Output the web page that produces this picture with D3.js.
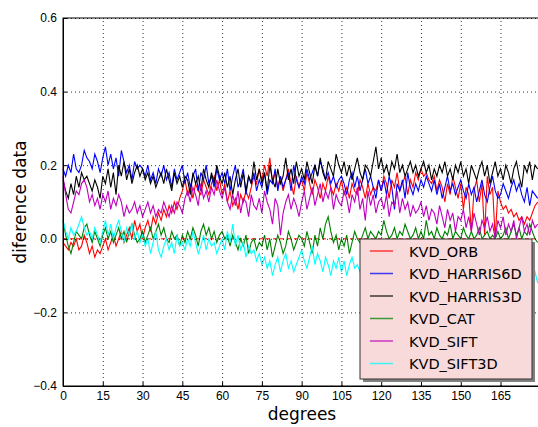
<!DOCTYPE html>
<html>
<head>
<meta charset="utf-8">
<script src="https://cdnjs.cloudflare.com/ajax/libs/d3/7.8.5/d3.min.js"></script>
<style>
    body { margin: 0; background: #fff; }
    svg { display: block; font-family: "DejaVu Sans", sans-serif; }
</style>
</head>
<body>
<svg width="538" height="427"></svg>
<script>
// one value per degree, 0..179
var degrees = d3.range(0, 180);

var kvdOrb = [
    -0.01,-0.02,-0.03,-0.01,-0.02,0.00,-0.03,-0.02,0.01,-0.01,-0.04,-0.02,-0.05,-0.03,-0.04,
    -0.02,0.00,-0.03,-0.01,0.01,-0.02,0.00,0.02,-0.01,0.01,0.03,0.00,0.05,0.02,0.04,
    0.00,0.03,0.05,0.02,0.06,0.04,0.07,0.05,0.08,0.06,0.09,0.07,0.10,0.08,0.11,
    0.13,0.16,0.12,0.14,0.11,0.15,0.13,0.12,0.16,0.14,0.12,0.15,0.17,0.13,0.16,
    0.12,0.15,0.10,0.13,0.09,0.11,0.08,0.12,0.10,0.13,0.11,0.14,0.17,0.15,0.19,
    0.16,0.20,0.17,0.22,0.15,0.18,0.14,0.17,0.13,0.16,0.19,0.15,0.12,0.17,0.14,
    0.16,0.13,0.18,0.15,0.12,0.16,0.14,0.11,0.15,0.13,0.17,0.14,0.12,0.15,0.13,
    0.16,0.12,0.14,0.11,0.15,0.13,0.12,0.16,0.14,0.11,0.15,0.12,0.14,0.13,0.16,
    0.13,0.17,0.15,0.11,0.16,0.14,0.18,0.13,0.15,0.17,0.12,0.16,0.14,0.18,0.16,
    0.19,0.17,0.18,0.16,0.15,0.17,0.13,0.16,0.14,0.10,0.15,0.12,0.17,0.14,0.11,
    0.15,0.08,0.14,0.12,0.02,0.13,0.16,0.10,0.15,0.01,0.17,0.12,0.14,0.00,0.13,
    0.10,0.08,0.09,0.07,0.08,0.06,0.07,0.05,0.06,0.04,0.06,0.05,0.07,0.09,0.10
];
var kvdHarris6d = [
    0.19,0.17,0.20,0.18,0.23,0.19,0.18,0.20,0.24,0.22,0.21,0.19,0.23,0.21,0.18,
    0.22,0.25,0.20,0.23,0.19,0.22,0.17,0.24,0.21,0.18,0.20,0.16,0.21,0.19,0.20,
    0.19,0.17,0.20,0.16,0.18,0.15,0.19,0.17,0.20,0.16,0.18,0.14,0.19,0.16,0.18,
    0.20,0.15,0.18,0.14,0.17,0.19,0.13,0.18,0.16,0.20,0.15,0.17,0.14,0.19,0.16,
    0.18,0.15,0.19,0.13,0.17,0.20,0.14,0.16,0.19,0.12,0.17,0.15,0.18,0.13,0.16,
    0.14,0.18,0.12,0.16,0.15,0.19,0.13,0.17,0.14,0.16,0.18,0.13,0.20,0.16,0.14,
    0.17,0.15,0.19,0.16,0.18,0.20,0.17,0.21,0.19,0.16,0.18,0.15,0.17,0.14,0.16,
    0.17,0.15,0.12,0.16,0.18,0.14,0.17,0.13,0.16,0.19,0.15,0.17,0.14,0.11,0.16,
    0.13,0.16,0.12,0.17,0.14,0.08,0.15,0.13,0.16,0.11,0.18,0.14,0.12,0.15,0.13,
    0.16,0.14,0.17,0.15,0.13,0.16,0.12,0.15,0.11,0.14,0.17,0.13,0.15,0.12,0.14,
    0.16,0.13,0.11,0.15,0.12,0.14,0.10,0.13,0.16,0.12,0.10,0.14,0.17,0.13,0.11,
    0.12,0.15,0.13,0.11,0.14,0.16,0.13,0.15,0.12,0.10,0.14,0.09,0.13,0.12,0.11
];
var kvdHarris3d = [
    0.16,0.13,0.11,0.15,0.12,0.17,0.14,0.18,0.16,0.17,0.15,0.13,0.16,0.14,0.11,
    0.17,0.15,0.19,0.14,0.18,0.12,0.20,0.17,0.21,0.16,0.19,0.15,0.18,0.20,0.17,
    0.19,0.16,0.18,0.15,0.17,0.14,0.16,0.18,0.15,0.19,0.16,0.13,0.18,0.15,0.17,
    0.14,0.17,0.16,0.12,0.18,0.15,0.17,0.13,0.19,0.16,0.14,0.18,0.15,0.20,0.17,
    0.15,0.18,0.14,0.17,0.12,0.16,0.19,0.14,0.18,0.13,0.17,0.15,0.21,0.16,0.19,
    0.15,0.18,0.13,0.20,0.16,0.14,0.19,0.15,0.17,0.22,0.16,0.19,0.15,0.21,0.17,
    0.19,0.16,0.21,0.18,0.15,0.20,0.17,0.22,0.18,0.16,0.21,0.19,0.17,0.23,0.20,
    0.18,0.21,0.17,0.20,0.16,0.19,0.22,0.18,0.16,0.20,0.19,0.17,0.21,0.25,0.19,
    0.22,0.18,0.20,0.17,0.21,0.19,0.23,0.18,0.20,0.17,0.19,0.21,0.18,0.20,0.17,
    0.19,0.21,0.18,0.20,0.16,0.19,0.17,0.20,0.18,0.21,0.17,0.19,0.16,0.20,0.18,
    0.21,0.17,0.19,0.15,0.20,0.18,0.16,0.19,0.21,0.17,0.20,0.15,0.18,0.21,0.17,
    0.19,0.16,0.20,0.18,0.15,0.19,0.21,0.17,0.14,0.20,0.18,0.21,0.16,0.20,0.19
];
var kvdCat = [
    0.05,0.01,-0.02,-0.04,-0.01,0.02,0.01,0.00,0.03,0.04,0.01,-0.01,0.02,0.00,-0.02,
    0.01,0.03,0.00,0.02,-0.01,0.01,0.03,0.00,0.02,-0.01,0.02,0.04,0.01,-0.01,0.00,
    0.02,-0.01,0.01,0.03,0.00,0.02,0.04,0.01,0.03,0.00,-0.01,0.02,0.00,0.01,-0.02,
    0.01,-0.01,0.02,0.00,0.03,0.01,-0.02,0.02,0.04,0.01,0.03,0.00,0.02,-0.01,0.01,
    0.02,0.00,0.01,-0.02,0.01,-0.01,-0.03,0.00,-0.02,0.01,-0.04,-0.01,0.00,-0.03,-0.01,
    -0.02,0.01,-0.03,0.00,-0.05,-0.02,0.01,-0.01,-0.04,-0.02,0.02,0.00,-0.03,-0.01,0.01,
    0.00,-0.02,0.02,-0.01,-0.04,0.01,-0.02,0.03,0.00,0.04,0.06,0.02,-0.01,0.01,-0.03,
    0.00,-0.02,0.01,-0.04,-0.01,0.02,0.00,-0.01,0.01,0.03,0.00,0.02,0.01,0.00,0.02,
    0.01,0.05,0.02,0.00,0.01,0.03,0.00,0.02,0.01,0.04,0.02,0.00,0.01,0.03,0.00,
    0.02,0.00,0.05,0.01,0.02,0.00,0.03,0.01,0.00,0.02,0.01,0.04,0.00,0.02,0.01,
    0.00,0.03,0.01,0.00,0.02,0.00,0.01,0.03,0.00,0.01,0.02,0.00,0.01,0.00,0.02,
    0.00,0.01,0.03,0.00,0.02,0.04,0.01,0.03,0.00,0.02,0.01,0.04,0.02,0.00,-0.01
];
var kvdSift = [
    0.17,0.12,0.08,0.07,0.10,0.13,0.12,0.15,0.16,0.14,0.10,0.12,0.09,0.11,0.08,
    0.12,0.10,0.13,0.08,0.11,0.09,0.12,0.10,0.06,0.09,0.07,0.08,0.10,0.07,0.09,
    0.06,0.08,0.10,0.07,0.09,0.06,0.08,0.07,0.10,0.08,0.06,0.09,0.07,0.10,0.09,
    0.07,0.11,0.13,0.10,0.14,0.12,0.09,0.15,0.11,0.13,0.10,0.14,0.12,0.16,0.13,
    0.11,0.14,0.10,0.08,0.12,0.09,0.13,0.07,0.11,0.10,0.06,0.12,0.09,0.08,0.11,
    0.07,0.13,0.10,0.08,0.04,0.11,0.09,0.01,0.07,0.10,0.12,0.08,0.11,0.09,0.06,
    0.10,0.13,0.08,0.11,0.14,0.09,0.12,0.15,0.10,0.13,0.11,0.14,0.08,0.12,0.10,
    0.09,0.13,0.11,0.07,0.12,0.10,0.14,0.08,0.11,0.05,0.13,0.09,0.12,0.07,0.10,
    0.11,0.08,0.12,0.06,0.10,0.09,0.13,0.07,0.11,0.08,0.10,0.06,0.09,0.07,0.08,
    0.10,0.06,0.09,0.05,0.08,0.07,0.04,0.09,0.06,0.03,0.08,0.05,0.07,0.02,0.06,
    0.05,0.08,0.03,0.06,0.02,0.07,0.04,0.01,0.05,0.03,0.06,0.02,0.04,0.00,0.05,
    0.03,0.06,0.01,0.04,0.02,0.05,0.00,0.03,0.06,0.02,0.04,0.01,0.05,0.03,0.04
];
var kvdSift3d = [
    0.05,0.02,0.00,0.03,0.01,0.02,0.04,0.06,0.03,0.01,0.02,0.00,0.03,0.01,-0.01,
    0.02,0.05,0.01,0.04,0.00,0.03,0.05,0.02,-0.01,0.03,0.01,0.04,0.00,0.02,-0.01,
    0.01,-0.02,0.00,-0.04,-0.01,0.02,-0.03,-0.05,-0.02,0.00,-0.03,-0.01,-0.04,0.01,-0.02,
    -0.01,-0.03,0.00,-0.02,0.02,-0.01,-0.04,-0.02,0.01,-0.03,0.00,-0.02,-0.01,-0.04,-0.02,
    0.00,-0.03,0.02,-0.01,0.04,-0.02,0.01,-0.03,-0.01,-0.05,-0.02,-0.04,-0.03,-0.06,-0.04,
    -0.07,-0.05,-0.08,-0.06,-0.10,-0.07,-0.05,-0.09,-0.06,-0.04,-0.08,-0.06,-0.09,-0.07,-0.05,
    -0.03,-0.06,-0.08,-0.05,-0.02,-0.07,-0.04,-0.06,-0.09,-0.05,-0.07,-0.10,-0.06,-0.08,-0.05,
    -0.09,-0.06,-0.10,-0.07,-0.05,-0.08,-0.07,-0.09,-0.08,-0.10,-0.07,-0.09,-0.08,-0.10,-0.09,
    -0.08,-0.10,-0.09,-0.11,-0.08,-0.10,-0.09,-0.12,-0.10,-0.08,-0.11,-0.09,-0.10,-0.12,-0.09,
    -0.11,-0.09,-0.10,-0.08,-0.11,-0.10,-0.12,-0.09,-0.11,-0.10,-0.08,-0.11,-0.09,-0.12,-0.10,
    -0.09,-0.11,-0.10,-0.12,-0.09,-0.11,-0.10,-0.08,-0.11,-0.09,-0.12,-0.10,-0.11,-0.09,-0.10,
    -0.12,-0.10,-0.11,-0.09,-0.12,-0.10,-0.11,-0.13,-0.10,-0.12,-0.08,-0.10,-0.11,-0.09,-0.12
];

var seriesNames = ["KVD_ORB", "KVD_HARRIS6D", "KVD_HARRIS3D", "KVD_CAT", "KVD_SIFT", "KVD_SIFT3D"];
var seriesValues = [kvdOrb, kvdHarris6d, kvdHarris3d, kvdCat, kvdSift, kvdSift3d];
var seriesColors = ["#ff0000", "#0000ff", "#000000", "#008000", "#bf00bf", "#00ffff"];

var xTicks = [0, 15, 30, 45, 60, 75, 90, 105, 120, 135, 150, 165];
var yTicks = [-0.4, -0.2, 0.0, 0.2, 0.4, 0.6];

var svg = d3.select("svg"),
    margin = {top: 18, left: 63},
    width = 477.3,
    height = 368,
    g = svg.append("g").attr("transform", "translate(" + margin.left + "," + margin.top + ")");

var x = d3.scaleLinear().domain([0, 180]).range([0, width]);
var y = d3.scaleLinear().domain([-0.4, 0.6]).range([height, 0]);

var fmt = function (d) {
    return d3.format(".1f")(d).replace("-", "\u2212");
};

var line = d3.line()
    .x(function (d, i) { return x(degrees[i]); })
    .y(function (d) { return y(d); });

// red dashed zero line
g.append("line")
    .attr("x1", 0).attr("x2", width)
    .attr("y1", y(0)).attr("y2", y(0))
    .attr("stroke", "#ff0000")
    .attr("stroke-dasharray", "4,3")
    .attr("stroke-width", 1);

g.selectAll(".serie")
    .data(seriesValues)
    .enter().append("path")
    .attr("class", "serie")
    .attr("d", line)
    .attr("fill", "none")
    .attr("stroke-width", 1.1)
    .attr("stroke", function (d, i) { return seriesColors[i]; });

// dotted grid, drawn on top like old matplotlib
g.append("g")
    .attr("class", "grid")
    .attr("transform", "translate(0," + height + ")")
    .call(d3.axisBottom(x).tickValues(xTicks).tickSize(-height).tickFormat(""))
    .call(function (s) { s.select(".domain").remove(); })
    .selectAll("line")
    .attr("stroke", "#000")
    .attr("stroke-width", 0.8)
    .attr("stroke-dasharray", "1,3");

g.append("g")
    .attr("class", "grid")
    .call(d3.axisLeft(y).tickValues(yTicks).tickSize(-width).tickFormat(""))
    .call(function (s) { s.select(".domain").remove(); })
    .selectAll("line")
    .attr("stroke", "#000")
    .attr("stroke-width", 0.8)
    .attr("stroke-dasharray", "1,3");

// axes with inward ticks
var xAxis = g.append("g")
    .attr("transform", "translate(0," + height + ")")
    .call(d3.axisBottom(x).tickValues(xTicks).tickSize(-4).tickPadding(5));
var yAxis = g.append("g")
    .call(d3.axisLeft(y).tickValues(yTicks).tickSize(-4).tickPadding(6).tickFormat(fmt));

[xAxis, yAxis].forEach(function (a) {
    a.selectAll("text").style("font-size", "12px").attr("fill", "#000");
    a.selectAll("line").attr("stroke", "#000");
    a.select(".domain").attr("stroke", "#000");
});

// frame
g.append("rect")
    .attr("width", width).attr("height", height)
    .attr("fill", "none").attr("stroke", "#000").attr("stroke-width", 1);

svg.append("text")
    .attr("x", margin.left + 239)
    .attr("y", 420)
    .attr("text-anchor", "middle")
    .style("font-size", "17px")
    .text("degrees");

svg.append("text")
    .attr("transform", "translate(26," + (margin.top + height / 2) + ") rotate(-90)")
    .attr("text-anchor", "middle")
    .style("font-size", "17px")
    .text("diference data");

// legend
var lg = svg.append("g").attr("transform", "translate(360,239)");
lg.append("rect")
    .attr("x", 3).attr("y", 3)
    .attr("width", 172).attr("height", 140)
    .attr("fill", "#808080");
lg.append("rect")
    .attr("width", 172).attr("height", 140)
    .attr("fill", "#f8dada")
    .attr("stroke", "#333")
    .attr("stroke-width", 1);

var item = lg.selectAll(".legend")
    .data(seriesNames)
    .enter().append("g")
    .attr("class", "legend")
    .attr("transform", function (d, i) {
        return "translate(0," + (12 + i * 22.5) + ")";
    });

item.append("line")
    .attr("x1", 10).attr("x2", 33)
    .attr("y1", 0).attr("y2", 0)
    .attr("stroke-width", 1.5)
    .attr("stroke-opacity", 0.75)
    .attr("stroke", function (d, i) { return seriesColors[i]; });

item.append("text")
    .attr("x", 49)
    .attr("y", 5.5)
    .style("font-size", "14.5px")
    .text(function (d) { return d; });
</script>
</body>
</html>
